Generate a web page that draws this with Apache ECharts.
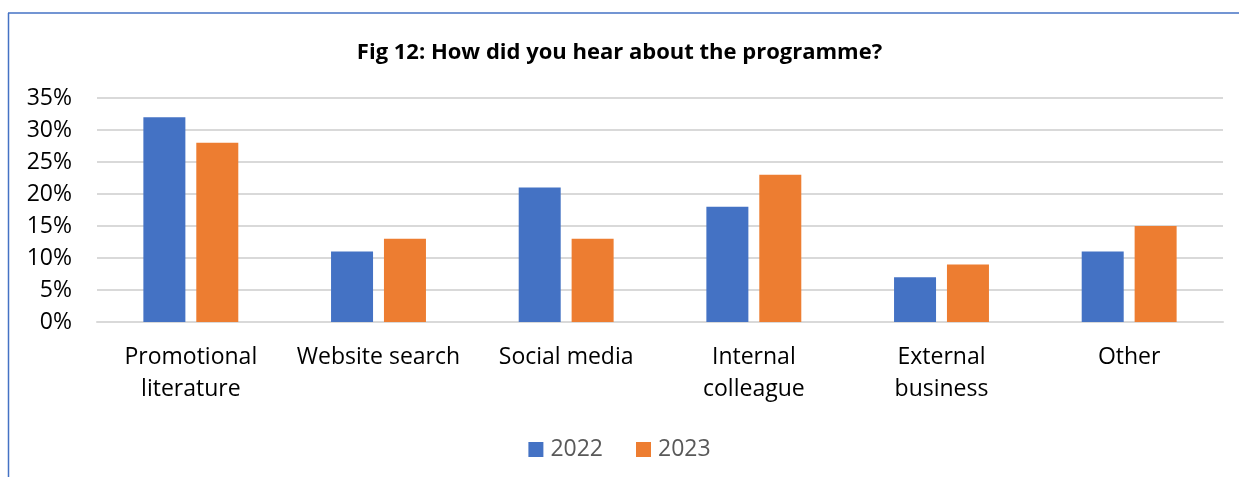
<!DOCTYPE html>
<html>
<head>
<meta charset="utf-8">
<script src="https://cdn.jsdelivr.net/npm/echarts@6/dist/echarts.min.js"></script>
<style>
  html, body { margin: 0; padding: 0; background: #ffffff; }
  #chart { width: 1239px; height: 477px; }
</style>
</head>
<body>
<div id="chart"></div>
<script>
// Survey answers: how respondents heard about the programme (% of respondents)
const titleText = 'Fig 12: How did you hear about the programme?';
const categories = ['Promotional\nliterature', 'Website search', 'Social media', 'Internal\ncolleague', 'External\nbusiness', 'Other'];
const seriesNames = ['2022', '2023'];
const values2022 = [32, 11, 21, 18, 7, 11];
const values2023 = [28, 13, 13, 23, 9, 15];
const yTicks = { min: 0, max: 35, step: 5 };

const FONT = '"Open Sans", sans-serif';
const chart = echarts.init(document.getElementById('chart'), null, { renderer: 'canvas' });

chart.setOption({
  animation: false,
  backgroundColor: '#ffffff',
  textStyle: { fontFamily: FONT },
  title: {
    text: titleText,
    left: 'center',
    top: 37,
    textStyle: { fontFamily: FONT, fontSize: 22, fontWeight: 'bold', color: '#000000' }
  },
  graphic: [
    { type: 'line', shape: { x1: 8, y1: 13, x2: 1239, y2: 13 }, style: { stroke: '#4472C4', lineWidth: 1.5 } },
    { type: 'line', shape: { x1: 8.5, y1: 13, x2: 8.5, y2: 477 }, style: { stroke: '#4472C4', lineWidth: 1.5 } }
  ],
  legend: {
    data: seriesNames,
    bottom: 11,
    left: 'center',
    itemWidth: 15,
    itemHeight: 15,
    itemGap: 33,
    icon: 'rect',
    textStyle: { fontFamily: FONT, fontSize: 23, color: '#595959', padding: [0, 0, 0, 2] }
  },
  grid: { left: 97, right: 16, top: 98, bottom: 155 },
  xAxis: {
    type: 'category',
    data: categories,
    axisLine: { show: true, lineStyle: { color: '#d9d9d9', width: 2 } },
    axisTick: { show: false },
    axisLabel: {
      interval: 0,
      margin: 19,
      fontFamily: FONT,
      fontSize: 23,
      lineHeight: 32,
      color: '#000000',
      verticalAlign: 'top'
    }
  },
  yAxis: {
    type: 'value',
    min: yTicks.min,
    max: yTicks.max,
    interval: yTicks.step,
    axisLine: { show: false },
    axisTick: { show: false },
    splitLine: { lineStyle: { color: '#d9d9d9', width: 2 } },
    axisLabel: {
      formatter: '{value}%',
      margin: 25,
      fontFamily: FONT,
      fontSize: 23,
      color: '#000000'
    }
  },
  series: [
    {
      name: seriesNames[0],
      type: 'bar',
      data: values2022,
      barWidth: 42,
      barGap: '26%',
      itemStyle: { color: '#4472C4' }
    },
    {
      name: seriesNames[1],
      type: 'bar',
      data: values2023,
      barWidth: 42,
      barGap: '26%',
      itemStyle: { color: '#ED7D31' }
    }
  ]
});
</script>
</body>
</html>
